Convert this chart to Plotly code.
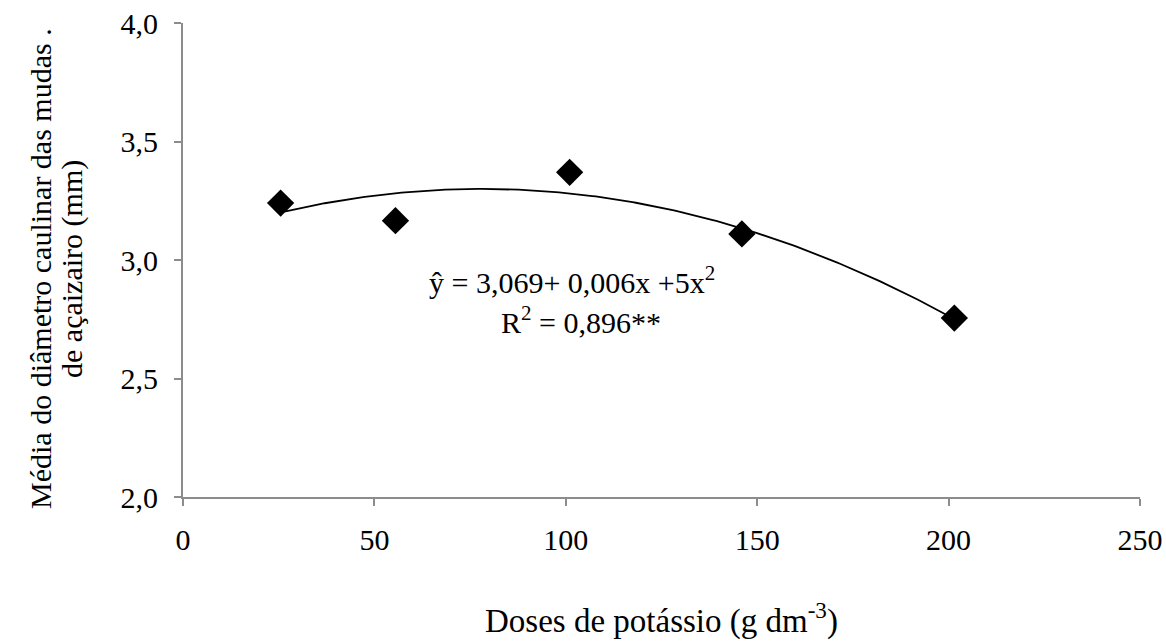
import numpy as np
import plotly.graph_objects as go

# Observed data (doses of potassium vs mean stem diameter)
doses = [25.5, 55.5, 101, 146, 201.5]
diametro = [3.24, 3.166, 3.37, 3.11, 2.755]

# Quadratic trendline coefficients (as drawn)
trend_b0 = 3.081
trend_b1 = 0.005616
trend_b2 = -0.000036
trend_x_range = [26.5, 200.5]

x_ticks = [0, 50, 100, 150, 200, 250]
y_ticks = [2.0, 2.5, 3.0, 3.5, 4.0]

xt = np.linspace(trend_x_range[0], trend_x_range[1], 200)
yt = trend_b0 + trend_b1 * xt + trend_b2 * xt ** 2

FONT = "Liberation Serif"
AXC = "#8c8c8c"

fig = go.Figure()
fig.add_trace(go.Scatter(x=xt, y=yt, mode="lines",
                         line=dict(color="black", width=1.8),
                         hoverinfo="skip", showlegend=False))
fig.add_trace(go.Scatter(x=doses, y=diametro, mode="markers",
                         marker=dict(symbol="diamond", size=21, color="black"),
                         showlegend=False))

fig.update_layout(
    width=1166, height=641,
    margin=dict(l=183, r=26, t=23, b=144),
    paper_bgcolor="white", plot_bgcolor="white",
    separators=",.",
    font=dict(family=FONT, size=30, color="black"),
    xaxis=dict(range=[0, 250], tickvals=x_ticks, showgrid=False, zeroline=False,
               showline=True, linecolor=AXC, linewidth=2, automargin=False,
               ticks="outside", ticklen=7, tickcolor=AXC, tickwidth=2,
               ticklabelstandoff=8,
               tickfont=dict(family=FONT, size=30)),
    yaxis=dict(range=[2.0, 4.0], tickvals=y_ticks, tickformat=".1f",
               showgrid=False, zeroline=False, automargin=False,
               showline=True, linecolor=AXC, linewidth=2,
               ticks="outside", ticklen=7, tickcolor=AXC, tickwidth=2,
               ticklabelstandoff=10,
               tickfont=dict(family=FONT, size=30)),
    annotations=[
        dict(text="Doses de potássio (g dm<sup>-3</sup>)", xref="paper", yref="paper",
             x=0.5, y=0, xanchor="center", yanchor="middle", yshift=-121,
             showarrow=False, font=dict(family=FONT, size=33)),
        dict(text="Média do diâmetro caulinar das mudas .",
             xref="paper", yref="paper", x=0, y=0.5, xanchor="center", yanchor="middle",
             xshift=-143, yshift=-9, textangle=-90, showarrow=False,
             font=dict(family=FONT, size=30)),
        dict(text="de açaizairo (mm)",
             xref="paper", yref="paper", x=0, y=0.5, xanchor="center", yanchor="middle",
             xshift=-111, yshift=-9, textangle=-90, showarrow=False,
             font=dict(family=FONT, size=30)),
        dict(text="ŷ = 3,069+ 0,006x +5x<sup>2</sup>", xref="x", yref="y",
             x=101.5, y=2.915, xanchor="center", yanchor="middle",
             showarrow=False, font=dict(family=FONT, size=30)),
        dict(text="R<sup>2</sup> = 0,896**", xref="x", yref="y",
             x=104, y=2.745, xanchor="center", yanchor="middle",
             showarrow=False, font=dict(family=FONT, size=30)),
    ],
)

fig.write_html("out.html", config={"displayModeBar": False},
               post_script="document.body.style.margin='0';document.body.style.overflow='hidden';")
